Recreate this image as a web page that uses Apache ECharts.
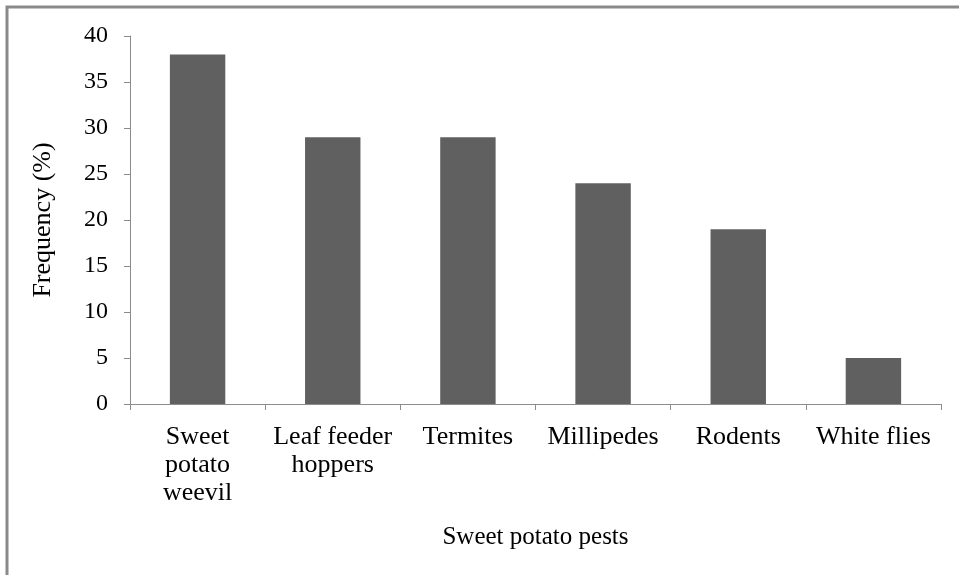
<!DOCTYPE html>
<html>
<head>
  <meta charset="UTF-8">
  <title>Sweet potato pests</title>
  <script src="https://cdn.jsdelivr.net/npm/echarts/dist/echarts.min.js"></script>
  <style>
    html, body { margin: 0; padding: 0; background: #fff; }
    #main { width: 959px; height: 575px; }
  </style>
</head>
<body>
  <div id="main"></div>
  <script>
    var pests = ['Sweet\npotato\nweevil', 'Leaf feeder\nhoppers', 'Termites', 'Millipedes', 'Rodents', 'White flies'];
    var frequency = [38, 29, 29, 24, 19, 5];

    var myChart = echarts.init(document.getElementById('main'));
    var font = 'Liberation Serif';

    var option = {
      backgroundColor: '#fff',
      animation: false,
      textStyle: { fontFamily: font },
      graphic: [{
        type: 'rect',
        shape: { x: 7, y: 7, width: 980, height: 600 },
        style: { fill: 'none', stroke: '#8a8a8a', lineWidth: 3 }
      }],
      grid: { left: 130, right: 18, top: 36, bottom: 171 },
      xAxis: {
        type: 'category',
        data: pests,
        name: 'Sweet potato pests',
        nameLocation: 'middle',
        nameGap: 121,
        nameTextStyle: { fontFamily: font, fontSize: 25, color: '#000' },
        axisLine: { lineStyle: { color: '#8c8c8c', width: 1 } },
        axisTick: { show: true, length: 6, lineStyle: { color: '#8c8c8c' } },
        axisLabel: { color: '#000', fontFamily: font, fontSize: 26, lineHeight: 28, margin: 19, interval: 0 }
      },
      yAxis: {
        type: 'value',
        min: 0,
        max: 40,
        interval: 5,
        name: 'Frequency (%)',
        nameLocation: 'middle',
        nameGap: 74,
        nameTextStyle: { fontFamily: font, fontSize: 26, color: '#000' },
        axisLine: { show: true, lineStyle: { color: '#8c8c8c', width: 1 } },
        axisTick: { show: true, length: 6, lineStyle: { color: '#8c8c8c' } },
        axisLabel: { color: '#000', fontFamily: font, fontSize: 24, margin: 22 },
        splitLine: { show: false }
      },
      series: [{
        type: 'bar',
        data: frequency,
        barWidth: '41%',
        itemStyle: { color: '#606060' }
      }]
    };

    myChart.setOption(option);
  </script>
</body>
</html>
